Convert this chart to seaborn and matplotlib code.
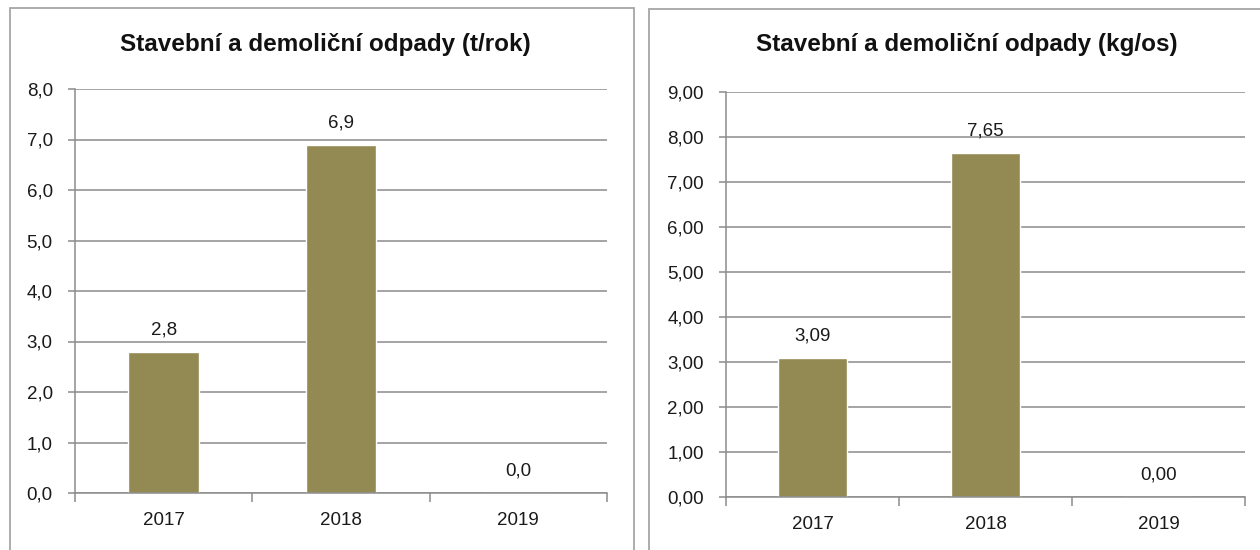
import matplotlib
matplotlib.use("Agg")
import matplotlib.pyplot as plt
import matplotlib.patches as patches
from matplotlib.ticker import FixedLocator, FuncFormatter
import pandas as pd
import seaborn as sns

years = ["2017", "2018", "2019"]
tonnes = [2.8, 6.9, 0.0]
kg_per_person = [3.09, 7.65, 0.00]
titles = ["Stavební a demoliční odpady (t/rok)", "Stavební a demoliční odpady (kg/os)"]

BAR = "#938953"
GRID = "#8c8c8c"
BORDER = "#a6a6a6"
FS = 13.5

sns.set_theme(style="white")
plt.rcParams["font.family"] = ["Liberation Sans", "DejaVu Sans"]

W, H = 1260, 550
fig = plt.figure(figsize=(W / 100, H / 100), dpi=100)


def px(x0, y0, x1, y1):
    # pixel box (top-left origin) -> figure fraction rect
    return [x0 / W, 1 - y1 / H, (x1 - x0) / W, (y1 - y0) / H]


def comma(v, decimals):
    return f"{v:.{decimals}f}".replace(".", ",")


# panel frames
for x0, y0, x1 in [(10, 8, 634), (649, 9, 1300)]:
    fig.patches.append(patches.Rectangle((x0 / W, -0.1), (x1 - x0) / W, 1.1 - y0 / H,
                                         transform=fig.transFigure, fill=False,
                                         edgecolor=BORDER, linewidth=1.3))


def draw(box, values, ymax, decimals, title, title_x):
    ax = fig.add_axes(px(*box))
    df = pd.DataFrame({"year": years, "value": values})
    sns.barplot(data=df, x="year", y="value", color=BAR, width=0.4,
                saturation=1, ax=ax)
    ax.set_xlim(-0.5, 2.5)
    ax.set_ylim(0, ymax)
    ax.set_xlabel("")
    ax.set_ylabel("")

    ax.yaxis.set_major_locator(FixedLocator(list(range(0, ymax + 1))))
    ax.yaxis.set_major_formatter(FuncFormatter(lambda v, p: comma(v, decimals)))
    ax.grid(axis="y", color=GRID, linewidth=1.1)
    ax.set_axisbelow(True)

    # ticks at category boundaries, labels at category centres
    ax.set_xticks([-0.5, 0.5, 1.5, 2.5])
    ax.set_xticklabels([])
    ax.set_xticks([0, 1, 2], minor=True)
    ax.set_xticklabels(years, minor=True)
    ax.tick_params(axis="x", which="major", direction="out", length=6.5,
                   width=1.1, color=GRID, bottom=True)
    ax.tick_params(axis="x", which="minor", length=0, pad=14, labelsize=FS,
                   labelcolor="#1a1a1a")
    ax.tick_params(axis="y", direction="out", length=5, width=1.1, color=GRID,
                   left=True, pad=11, labelsize=FS, labelcolor="#1a1a1a")

    for side in ["top", "right"]:
        ax.spines[side].set_visible(False)
    for side in ["left", "bottom"]:
        ax.spines[side].set_color(GRID)
        ax.spines[side].set_linewidth(1.1)

    for i, v in enumerate(values):
        ax.annotate(comma(v, decimals), (i, v), xytext=(0, 15.5),
                    textcoords="offset points", ha="center", va="center",
                    fontsize=FS, color="#1a1a1a")

    fig.text(title_x / W, 1 - 44 / H, title, ha="center", va="center",
             fontsize=17.5, fontweight="bold", color="#111111")
    return ax


draw((75, 89, 607, 493), tonnes, 8, 1, titles[0], 325)
draw((726, 92, 1245, 497), kg_per_person, 9, 2, titles[1], 967)

fig.savefig("out.png", dpi=100)
